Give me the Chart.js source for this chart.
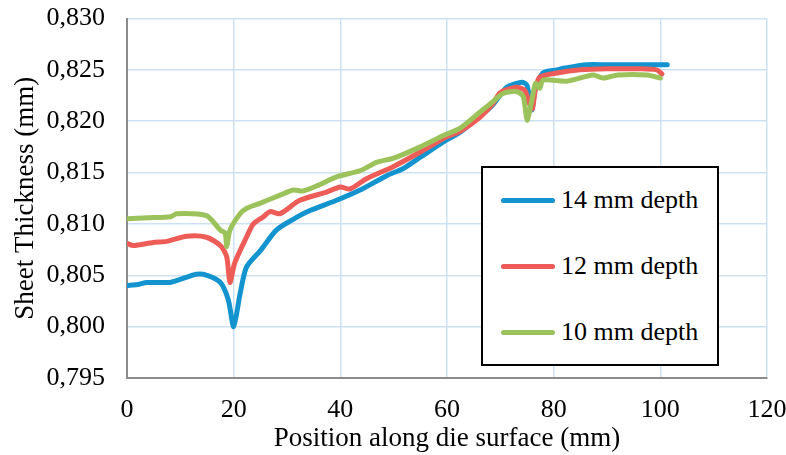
<!DOCTYPE html>
<html>
<head>
<meta charset="utf-8">
<script src="https://cdn.jsdelivr.net/npm/chart.js@4"></script>
<style>
    html, body { margin: 0; padding: 0; background: #fff; }
    #wrap { position: relative; width: 786px; height: 455px; }
    #legendBox {
        position: absolute; left: 481px; top: 166px; width: 234px; height: 196px;
        border: 2px solid #000; background: #fff;
        font-family: 'Liberation Serif', 'Times New Roman', serif; font-size: 26px; color: #000;
    }
    .item { position: absolute; left: 0; height: 30px; display: flex; align-items: center; }
    .swatch { width: 54px; height: 5px; border-radius: 3px; margin-left: 18px; margin-right: 6px; }
</style>
</head>
<body>
<div id="wrap">
    <canvas id="thicknessChart" width="786" height="455"></canvas>
    <div id="legendBox"></div>
</div>
<script>
// Series data (x = position in mm, y = thickness in mm)
const seriesLabels = ['14 mm depth', '12 mm depth', '10 mm depth'];
const seriesColors = ['#1394cf', '#ee5c58', '#9cc35b'];

const x14 = [0, 2, 3.7, 8, 10, 13, 15, 17.5, 19, 20, 21.2, 22.4, 25, 28, 31, 34.3, 39.3, 43.7, 48.7, 51.8, 55, 60, 62.4, 66, 68.6, 71.2, 74, 75, 75.9, 76.5, 78, 80.6, 82.4, 86.2, 90, 95, 101.3];
const y14 = [0.8040, 0.8041, 0.8043, 0.8043, 0.8046, 0.8051, 0.8050, 0.8043, 0.8026, 0.8000, 0.8032, 0.8058, 0.8074, 0.8094, 0.8104, 0.8113, 0.8123, 0.8133, 0.8147, 0.8154, 0.8165, 0.8182, 0.8189, 0.8204, 0.8216, 0.8233, 0.8238, 0.8235, 0.8211, 0.8230, 0.8247, 0.8250, 0.8252, 0.8255, 0.8255, 0.8255, 0.8255];

const x12 = [0, 1.2, 4.9, 7.4, 11.2, 14.9, 17.5, 18.7, 19.3, 20.2, 22.4, 23.7, 25.6, 26.8, 28.7, 32.4, 37.4, 40, 41.8, 44.9, 50, 55, 60, 62.4, 66, 68.6, 70, 73, 74.6, 75.4, 76, 76.6, 77.4, 80.6, 85, 90, 96.2, 99.3, 100.3];
const y12 = [0.8081, 0.8079, 0.8082, 0.8083, 0.8088, 0.8087, 0.8079, 0.8068, 0.8043, 0.8062, 0.8087, 0.8100, 0.8107, 0.8112, 0.8110, 0.8123, 0.8131, 0.8136, 0.8134, 0.8144, 0.8156, 0.8170, 0.8185, 0.8190, 0.8203, 0.8217, 0.8228, 0.8233, 0.8230, 0.8218, 0.8212, 0.8232, 0.8243, 0.8247, 0.8250, 0.8251, 0.8251, 0.8250, 0.8246];

const x10 = [0, 4, 8.2, 9.3, 14.9, 17.5, 18.4, 18.7, 19.3, 21.2, 22.4, 24.9, 28.7, 31.2, 33, 36, 39.4, 43.8, 46.8, 50, 55, 59.3, 62.4, 66.2, 68.6, 70.5, 73, 74.3, 75, 75.9, 76.6, 77.4, 78, 82.4, 87.4, 89.2, 92, 97.5, 100];
const y10 = [0.8105, 0.8106, 0.8107, 0.8110, 0.8108, 0.8094, 0.8091, 0.8078, 0.8094, 0.8110, 0.8115, 0.8120, 0.8128, 0.8133, 0.8132, 0.8138, 0.8146, 0.8152, 0.8160, 0.8164, 0.8175, 0.8186, 0.8193, 0.8209, 0.8219, 0.8227, 0.8229, 0.8224, 0.8201, 0.8220, 0.8237, 0.8232, 0.8240, 0.8239, 0.8245, 0.8242, 0.8245, 0.8245, 0.8242];

// Axis settings
const xMin = 0, xMax = 120, xStep = 20;
const yMin = 0.795, yMax = 0.830, yStep = 0.005;

const serifFont = "'Liberation Serif', 'Times New Roman', serif";
const gridColor = '#cde1f3';

function toPoints(xs, ys) {
    return xs.map((x, i) => ({ x: x, y: ys[i] }));
}

const allX = [x14, x12, x10];
const allY = [y14, y12, y10];

const datasets = seriesLabels.map((label, i) => ({
    label: label,
    data: toPoints(allX[i], allY[i]),
    borderColor: seriesColors[i],
    backgroundColor: seriesColors[i],
    borderWidth: 5,
    pointRadius: 0,
    tension: 0.25,
    borderCapStyle: 'round',
    borderJoinStyle: 'round',
    order: 3 - i
}));

const ctx = document.getElementById('thicknessChart').getContext('2d');
const thicknessChart = new Chart(ctx, {
    type: 'line',
    data: { datasets: datasets },
    options: {
        responsive: false,
        animation: false,
        layout: { padding: { top: 18.5, right: 19, bottom: 0, left: 0 } },
        plugins: {
            legend: { display: false },
            tooltip: { enabled: false }
        },
        scales: {
            x: {
                type: 'linear',
                min: xMin,
                max: xMax,
                ticks: {
                    stepSize: xStep,
                    color: '#000',
                    padding: 17,
                    maxRotation: 0,
                    font: { family: serifFont, size: 26 }
                },
                grid: { color: gridColor, lineWidth: 1.5, drawTicks: false },
                border: { color: '#8c8c8c', width: 2 },
                title: {
                    display: true,
                    text: 'Position along die surface (mm)',
                    color: '#000',
                    padding: { top: 0, bottom: 0 },
                    font: { family: serifFont, size: 27 }
                },
                afterFit: scale => {
                    scale.height = 77;
                    scale.paddingLeft = 0;
                    scale.paddingRight = 0;
                }
            },
            y: {
                min: yMin,
                max: yMax,
                ticks: {
                    stepSize: yStep,
                    color: '#000',
                    padding: 22,
                    font: { family: serifFont, size: 26 },
                    callback: value => value.toFixed(3).replace('.', ',')
                },
                grid: { color: gridColor, lineWidth: 1.5, drawTicks: false },
                border: { color: '#8c8c8c', width: 2 },
                title: {
                    display: true,
                    text: 'Sheet Thickness (mm)',
                    color: '#000',
                    padding: { top: 10, bottom: 0 },
                    font: { family: serifFont, size: 27 }
                },
                afterFit: scale => {
                    scale.width = 127;
                    scale.paddingTop = 0;
                    scale.paddingBottom = 0;
                }
            }
        }
    }
});

// Legend box built from the same series
const legendBox = document.getElementById('legendBox');
const itemTops = [17, 83, 149];
seriesLabels.forEach((label, i) => {
    const item = document.createElement('div');
    item.className = 'item';
    item.style.top = itemTops[i] + 'px';
    item.innerHTML = `<span class="swatch" style="background:${seriesColors[i]}"></span><span>${label}</span>`;
    legendBox.appendChild(item);
});
</script>
</body>
</html>
